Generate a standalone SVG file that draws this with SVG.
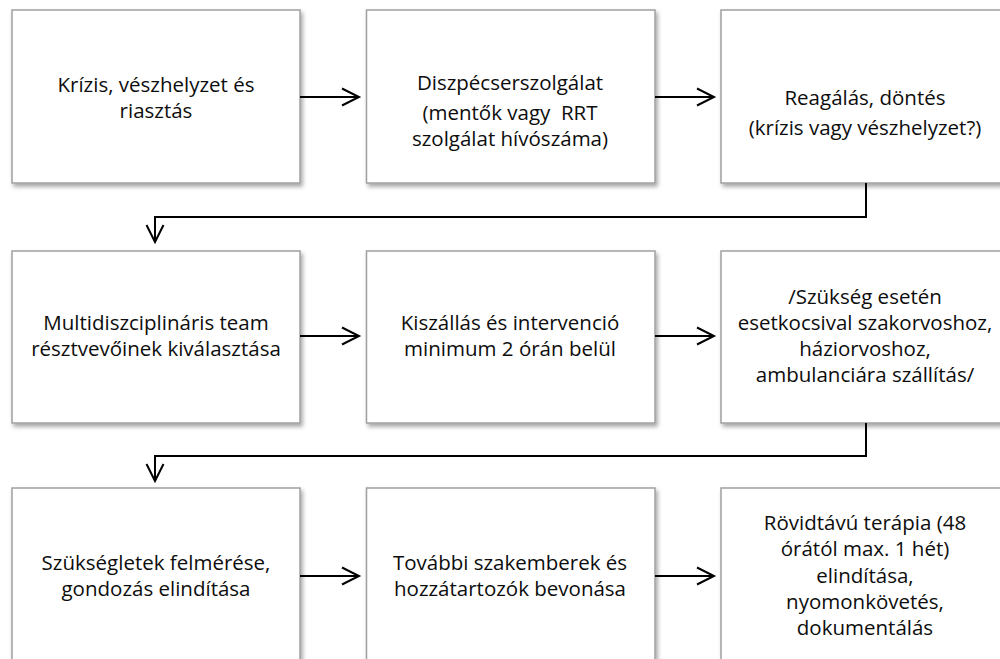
<svg xmlns="http://www.w3.org/2000/svg" width="1000" height="659" viewBox="0 0 1000 659">
<style>
.box{fill:#fff;stroke:#a0a0a0;stroke-width:1.5;filter:url(#sh)}
.t{font-family:"Open Sans","Noto Sans",sans-serif;font-size:20.5px;fill:#0d0d0d;text-anchor:middle;white-space:pre}
.c{fill:none;stroke:#000;stroke-width:2;marker-end:url(#ah)}
</style>
<defs>
<filter id="sh" x="-5%" y="-5%" width="115%" height="120%">
<feDropShadow dx="2" dy="3" stdDeviation="2" flood-color="#000" flood-opacity="0.35"/>
</filter>
<marker id="ah" markerUnits="userSpaceOnUse" viewBox="-20 -10 22 20" markerWidth="22" markerHeight="20" refX="0" refY="0" orient="auto" overflow="visible">
<path d="M-17,-8.5 L0,0 L-17,8.5" fill="none" stroke="#000" stroke-width="2"/>
</marker>
</defs>
<rect width="1000" height="659" fill="#fff"/>
<g id="n1"><rect class="box" x="12" y="10" width="288" height="173"/>
<text class="t" x="156" y="92">Krízis, vészhelyzet és</text><text class="t" x="156" y="118">riasztás</text></g>
<g id="n2"><rect class="box" x="366.5" y="10" width="288.5" height="173"/>
<text class="t" x="510" y="90">Diszpécserszolgálat</text><text class="t" x="510" y="120">(mentők vagy  RRT</text><text class="t" x="510" y="146">szolgálat hívószáma)</text></g>
<g id="n3"><rect class="box" x="721" y="10" width="288" height="173"/>
<text class="t" x="865" y="105">Reagálás, döntés</text><text class="t" x="865" y="135">(krízis vagy vészhelyzet?)</text></g>
<g id="n4"><rect class="box" x="12" y="251" width="288" height="172"/>
<text class="t" x="156" y="330">Multidiszciplináris team</text><text class="t" x="156" y="356">résztvevőinek kiválasztása</text></g>
<g id="n5"><rect class="box" x="366.5" y="251" width="288.5" height="172"/>
<text class="t" x="510" y="330">Kiszállás és intervenció</text><text class="t" x="510" y="356">minimum 2 órán belül</text></g>
<g id="n6"><rect class="box" x="721" y="251" width="288" height="172"/>
<text class="t" x="865" y="304">/Szükség esetén</text><text class="t" x="865" y="330">esetkocsival szakorvoshoz,</text><text class="t" x="865" y="356">háziorvoshoz,</text><text class="t" x="865" y="382">ambulanciára szállítás/</text></g>
<g id="n7"><rect class="box" x="12" y="488" width="288" height="175"/>
<text class="t" x="156" y="570">Szükségletek felmérése,</text><text class="t" x="156" y="596">gondozás elindítása</text></g>
<g id="n8"><rect class="box" x="366.5" y="488" width="288.5" height="175"/>
<text class="t" x="510" y="570">További szakemberek és</text><text class="t" x="510" y="596">hozzátartozók bevonása</text></g>
<g id="n9"><rect class="box" x="721" y="488" width="288" height="175"/>
<text class="t" x="865" y="530">Rövidtávú terápia (48</text><text class="t" x="865" y="556">órától max. 1 hét)</text><text class="t" x="865" y="583">elindítása,</text><text class="t" x="865" y="609">nyomonkövetés,</text><text class="t" x="865" y="635">dokumentálás</text></g>
<g id="connectors">
<path class="c" d="M300,97 H359"/>
<path class="c" d="M655,97 H714"/>
<path class="c" d="M866,183 V217 H155 V242"/>
<path class="c" d="M300,336 H359"/>
<path class="c" d="M655,336 H714"/>
<path class="c" d="M866,423 V456 H155 V481"/>
<path class="c" d="M300,576 H359"/>
<path class="c" d="M655,576 H714"/>
</g>
</svg>
